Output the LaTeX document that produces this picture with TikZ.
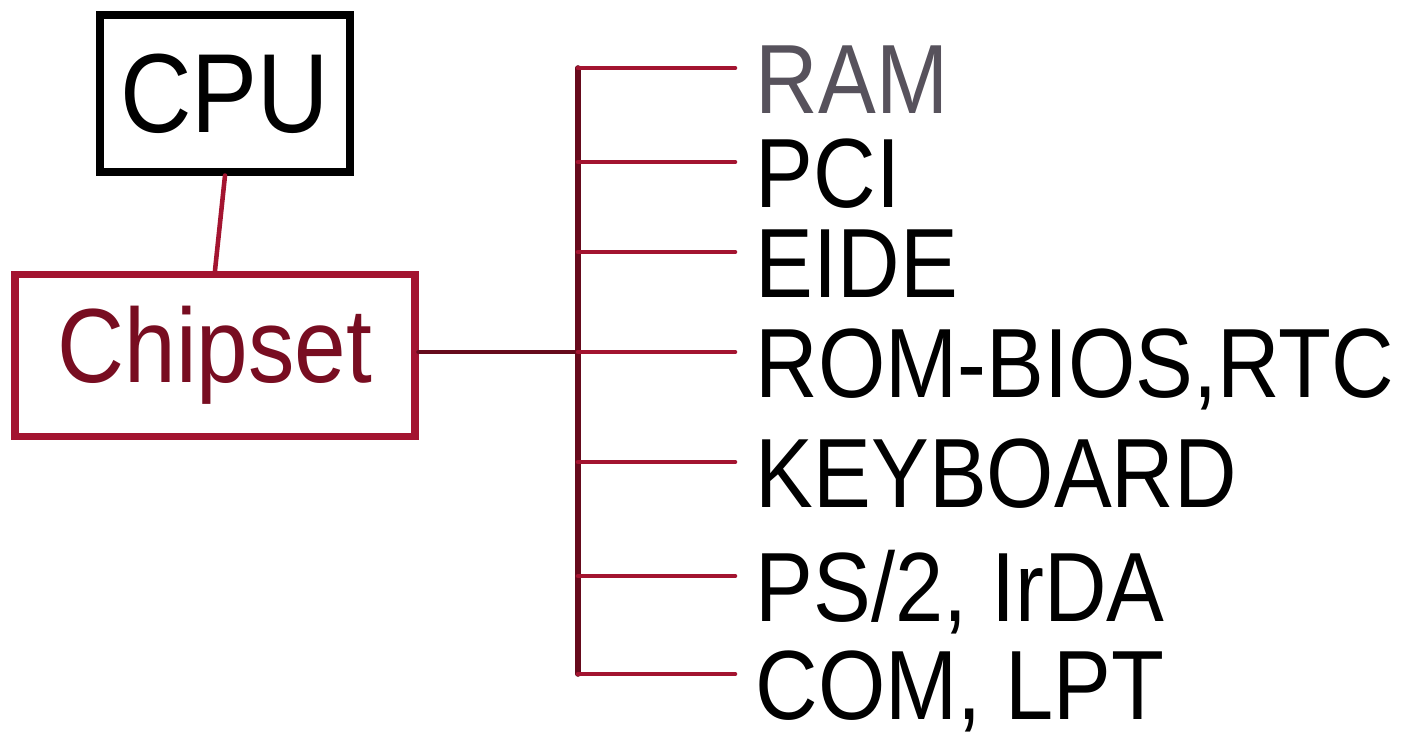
\documentclass[tikz,border=0pt]{standalone}
\usepackage{fontspec}
\usepackage{xcolor}
\newfontfamily\handfont[FakeStretch=0.88]{Liberation Sans}
\definecolor{inkred}{rgb}{0.64,0.08,0.19}
\definecolor{inkdark}{rgb}{0.40,0.04,0.11}
\definecolor{chiptext}{rgb}{0.47,0.05,0.13}
\definecolor{ramgray}{rgb}{0.34,0.32,0.36}

\begin{document}
\begin{tikzpicture}[
  box/.style={line width=2pt, inner sep=0pt},
  port/.style={anchor=west, inner xsep=0.2cm, inner ysep=0pt, text height=0.95cm, text depth=0.05cm, font=\handfont\fontsize{28}{30}\selectfont},
  wire/.style={inkred, line width=1.3pt, line cap=round}
]
\useasboundingbox (0,0) rectangle (14.01,-7.41);

\node[box, draw=black, minimum width=2.5cm, minimum height=1.57cm, font=\handfont\fontsize{32}{34}\selectfont] (cpu) at (2.25,-0.935) {CPU};
\node[box, draw=inkred, text=chiptext, minimum width=4cm, minimum height=1.62cm, font=\handfont\fontsize{30}{32}\selectfont] (chipset) at (2.15,-3.55) {Chipset};

\coordinate (bus) at (5.78,-3.52);

\node[port, text=ramgray] (ram) at (7.35,-0.68) {RAM};
\node[port] (pci) at (7.35,-1.62) {PCI};
\node[port] (eide) at (7.35,-2.52) {EIDE};
\node[port] (rom) at (7.35,-3.52) {ROM-BIOS,RTC};
\node[port] (kbd) at (7.35,-4.62) {KEYBOARD};
\node[port] (ps2) at (7.35,-5.76) {PS/2, IrDA};
\node[port] (com) at (7.35,-6.74) {COM, LPT};

% draw the wires
\draw[wire] (cpu.south) -- (chipset.north);
\draw[wire, inkdark] (chipset.east |- bus) -- (bus);
\draw[wire, inkdark, line width=1.6pt] (bus |- ram.west) -- (bus |- com.west);

\draw[wire] (bus |- ram.west) -- (ram.west);
\draw[wire] (bus |- pci.west) -- (pci.west);
\draw[wire] (bus |- eide.west) -- (eide.west);
\draw[wire] (bus |- rom.west) -- (rom.west);
\draw[wire] (bus |- kbd.west) -- (kbd.west);
\draw[wire] (bus |- ps2.west) -- (ps2.west);
\draw[wire] (bus |- com.west) -- (com.west);

\end{tikzpicture}
\end{document}
